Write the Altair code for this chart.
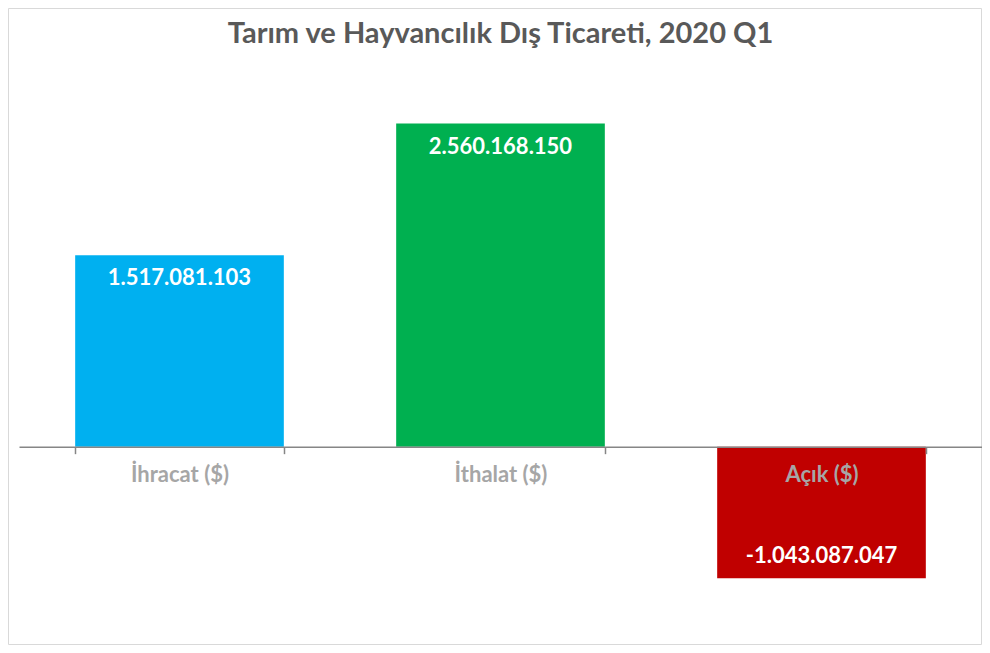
import altair as alt
import pandas as pd

categories = ["İhracat ($)", "İthalat ($)", "Açık ($)"]
values = [1517081103, 2560168150, -1043087047]
colors = ["#00B0F0", "#00B050", "#C00000"]
title_text = "Tarım ve Hayvancılık Dış Ticareti, 2020 Q1"

df = pd.DataFrame({"cat": categories, "value": values, "color": colors})

FONT = "Lato"

xenc = alt.X(
    "cat:N",
    sort=categories,
    scale=alt.Scale(paddingInner=0.35, paddingOuter=0.175),
    axis=alt.Axis(
        title=None,
        orient="bottom",
        offset=-189.33,
        tickBand="extent",
        domainColor="#868686",
        domainWidth=1.5,
        tickColor="#868686",
        tickWidth=1.5,
        tickSize=7,
        labelFont=FONT,
        labelFontSize=22,
        labelFontWeight="bold",
        labelColor="#A6A6A6",
        labelPadding=11,
        labelAngle=0,
        zindex=1,
    ),
)
yenc = alt.Y("value:Q", scale=alt.Scale(domain=[-1500000000, 3000000000], nice=False, zero=True), axis=None)

base = alt.Chart(df)

bars = base.mark_bar().encode(
    x=xenc,
    y=yenc,
    color=alt.Color("color:N", scale=None),
)

txt_pos = base.transform_filter("datum.value >= 0").mark_text(
    dy=23, baseline="middle", align="center", font=FONT, fontSize=22, fontWeight="bold", color="white"
).encode(x=alt.X("cat:N", sort=categories), y="value:Q", text=alt.Text("value:Q", format=",d"))

txt_neg = base.transform_filter("datum.value < 0").mark_text(
    dy=-22, baseline="middle", align="center", font=FONT, fontSize=22, fontWeight="bold", color="white"
).encode(x=alt.X("cat:N", sort=categories), y="value:Q", text=alt.Text("value:Q", format=",d"))

border = alt.Chart(pd.DataFrame({"a": [0]})).mark_rect(
    fillOpacity=0, stroke="#D9D9D9", strokeWidth=1
).encode(
    x=alt.value(-10.5), x2=alt.value(962.5), y=alt.value(-59.5), y2=alt.value(576.5)
)

title = alt.Chart(pd.DataFrame({"t": [title_text]})).mark_text(
    font=FONT, fontSize=29, fontWeight="bold", color="#595959", align="center", baseline="alphabetic"
).encode(x=alt.value(481.5), y=alt.value(-25), text="t:N")

chart = alt.layer(border, title, bars, txt_pos, txt_neg).properties(
    width=963,
    height=568,
    autosize=alt.AutoSizeParams(type="none"),
    padding={"left": 11, "top": 60, "right": 0, "bottom": 9},
).configure(
    locale={"number": {"decimal": ",", "thousands": ".", "grouping": [3], "currency": ["", ""], "minus": "-"}}
).configure_view(strokeOpacity=0)

chart.save("out.html", embed_options={"renderer": "svg", "actions": False})
